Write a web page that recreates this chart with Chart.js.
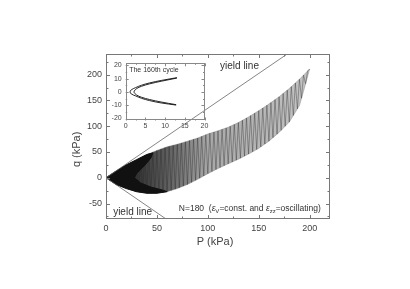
<!DOCTYPE html>
<html>
<head>
<meta charset="utf-8">
<script src="https://cdn.jsdelivr.net/npm/chart.js"></script>
<style>
     body { margin: 0; background: #fff; }
     #wrap { position: relative; width: 410px; height: 289px; }
     #wrap canvas { position: absolute; left: 0; top: 0; }
     #insetChart { pointer-events: none; }
</style>
</head>
<body>
<div id="wrap">
     <canvas id="mainChart" width="410" height="289"></canvas>
     <canvas id="insetChart" width="410" height="289"></canvas>
</div>
<script>
// envelope of the stress path (P, q in kPa)
const bandP = [0, 10, 20, 30, 40, 50, 60, 70, 80, 90, 100, 110, 120, 130, 140, 150, 160, 170, 180, 190, 200,
     196, 190, 180, 170, 160, 150, 140, 130, 120, 110, 100, 90, 80, 70, 60, 50, 40, 30, 20, 10, 0];
const bandQ = [0, 13, 25, 35, 45, 53, 60, 65, 71, 77, 85, 91, 98, 107, 118, 130, 143, 157, 173, 191, 211,
     182, 140, 108, 88, 71, 57, 46, 36, 27, 18, 8, -3, -13, -21, -27, -30, -30, -27, -21, -13, 0];

// solid black part near the origin
const coreP = [0, 10, 20, 30, 40, 46, 44, 38, 30, 28, 34, 44, 56, 60, 50, 40, 30, 20, 10, 0];
const coreQ = [0, 13, 25, 35, 45, 48, 38, 24, 8, 0, -10, -18, -24, -27, -30, -30, -27, -21, -13, 0];

// oscillation of the path between the two edges
const zigP = [30, 32, 34, 36, 38, 40, 42, 44, 46, 48, 50, 52, 54, 56, 58, 60, 62, 64, 66, 68, 70, 72, 74, 76, 78, 80,
     82, 84, 86, 88, 90, 92, 94, 96, 98, 100, 102, 104, 106, 108, 110, 112, 114, 116, 118, 120, 122, 124, 126, 128,
     130, 132, 134, 136, 138, 140, 142, 144, 146, 148, 150, 152, 154, 156, 158, 160, 162, 164, 166, 168, 170, 172,
     174, 176, 178, 180, 182, 184, 186, 188, 190, 192, 194, 196, 198, 200];
const zigQ = [35, -27.6, 39, -28.8, 43, -30, 46.6, -30, 49.8, -30, 53, -29.4, 55.8, -28.2, 58.6, -27, 61, -24.6, 63, -22.2,
     65, -19.4, 67.4, -16.2, 69.8, -13, 72.2, -9, 74.6, -5, 77, -0.8, 80.2, 3.6, 83.4, 8, 86.2, 12, 88.6, 16,
     91, 19.8, 93.8, 23.4, 96.6, 27, 99.8, 30.6, 103.4, 34.2, 107, 38, 111.4, 42, 115.8, 46, 120.4, 50.4,
     125.2, 54.8, 130, 59.8, 135.2, 65.4, 140.4, 71, 145.8, 77.8, 151.4, 84.6, 157, 92, 163.4, 100, 169.8, 108,
     176.6, 120.8, 183.8, 133.6, 191, 154.2, 199, 182.4, 207, 211];

// yield lines
const yieldUpP = [0, 178];
const yieldUpQ = [0, 240];
const yieldLoP = [0, 59];
const yieldLoQ = [0, -80];

// inset: the 160th cycle
const outerP = [12.8, 9, 6, 4, 2.5, 1.4, 1.1, 1.4, 2.5, 4, 6, 9, 13];
const outerQ = [-9.9, -8.3, -6.5, -4.8, -3, -1.5, 0, 1.5, 3.2, 5, 6.7, 8.6, 10.7];
const innerP = [12.8, 9, 6, 4, 2.8, 2.1, 2.8, 4, 6, 9, 13];
const innerQ = [-9.6, -7.6, -5.7, -4, -2.4, 0, 2.5, 4.2, 6, 8, 10.4];

const FONT = "'Liberation Sans', Arial, Helvetica, sans-serif";
const TXT = '#444';

function pts(xs, ys) {
     return xs.map((v, i) => ({ x: v, y: ys[i] }));
}

// box round the plot with inward ticks on all four sides
const frameTicks = {
     id: 'frameTicks',
     afterDraw(chart, args, opts) {
          const { ctx, chartArea: a, scales: { x, y } } = chart;
          ctx.save();
          ctx.strokeStyle = opts.color;
          ctx.lineWidth = 1;
          ctx.strokeRect(Math.round(a.left) + 0.5, Math.round(a.top) + 0.5,
               Math.round(a.right - a.left) - 1, Math.round(a.bottom - a.top) - 1);
          ctx.beginPath();
          x.ticks.forEach(t => {
               const px = Math.round(x.getPixelForValue(t.value)) + 0.5;
               const len = t.label !== '' ? opts.major : opts.minor;
               ctx.moveTo(px, a.bottom); ctx.lineTo(px, a.bottom - len);
               ctx.moveTo(px, a.top); ctx.lineTo(px, a.top + len);
          });
          y.ticks.forEach(t => {
               const py = Math.round(y.getPixelForValue(t.value)) + 0.5;
               const len = t.label !== '' ? opts.major : opts.minor;
               ctx.moveTo(a.left, py); ctx.lineTo(a.left + len, py);
               ctx.moveTo(a.right, py); ctx.lineTo(a.right - len, py);
          });
          ctx.stroke();
          ctx.restore();
     }
};

const mainTexts = {
     id: 'mainTexts',
     afterDraw(chart) {
          const { ctx, chartArea: a, scales: { x, y } } = chart;
          ctx.save();
          ctx.fillStyle = '#333';
          ctx.textBaseline = 'middle';
          ctx.font = '10px ' + FONT;
          ctx.fillText('yield line', x.getPixelForValue(112), y.getPixelForValue(217));
          ctx.fillText('yield line', x.getPixelForValue(7), y.getPixelForValue(-67));

          // N=180 (eps_V=const. and eps_zz=oscillating)
          let px = x.getPixelForValue(71.5);
          const py = y.getPixelForValue(-60);
          const parts = [['N=180  (', 0], ['\u03b5', 0, 'italic '], ['V', 1], ['=const. and ', 0],
               ['\u03b5', 0, 'italic '], ['zz', 1], ['=oscillating)', 0]];
          parts.forEach(p => {
               ctx.font = (p[2] || '') + (p[1] ? '6px ' : '8.5px ') + FONT;
               ctx.fillText(p[0], px, py + (p[1] ? 3 : 0));
               px += ctx.measureText(p[0]).width;
          });

          // axis titles
          ctx.fillStyle = TXT;
          ctx.font = '11px ' + FONT;
          ctx.textAlign = 'center';
          ctx.fillText('P (kPa)', (a.left + a.right) / 2 - 3, 242);
          ctx.translate(a.left - 29, y.getPixelForValue(55));
          ctx.rotate(-Math.PI / 2);
          ctx.fillText('q (kPa)', 0, 0);
          ctx.restore();
     }
};

const insetTexts = {
     id: 'insetTexts',
     afterDraw(chart) {
          const { ctx, chartArea: a } = chart;
          ctx.save();
          ctx.fillStyle = '#333';
          ctx.font = '7px ' + FONT;
          ctx.textBaseline = 'middle';
          ctx.fillText('The 160th cycle', a.left + 3.5, a.top + 7);
          ctx.restore();
     }
};

document.addEventListener('DOMContentLoaded', function () {
     const ctx = document.getElementById('mainChart').getContext('2d');
     new Chart(ctx, {
          type: 'scatter',
          data: {
               datasets: [{
                    data: pts(yieldUpP, yieldUpQ),
                    showLine: true,
                    borderColor: '#666',
                    borderWidth: 0.8,
                    pointRadius: 0,
                    order: 0
               }, {
                    data: pts(yieldLoP, yieldLoQ),
                    showLine: true,
                    borderColor: '#666',
                    borderWidth: 0.8,
                    pointRadius: 0,
                    order: 0
               }, {
                    data: pts(coreP, coreQ),
                    showLine: true,
                    fill: 'shape',
                    backgroundColor: '#111',
                    borderColor: '#111',
                    borderWidth: 1,
                    pointRadius: 0,
                    order: 1
               }, {
                    data: pts(zigP, zigQ),
                    showLine: true,
                    borderColor: 'rgba(40,40,40,0.75)',
                    borderWidth: 0.5,
                    pointRadius: 0,
                    order: 2
               }, {
                    data: pts(bandP, bandQ),
                    showLine: true,
                    fill: 'shape',
                    backgroundColor: function (c) {
                         const chart = c.chart;
                         if (!chart.chartArea) return '#aaa';
                         const xs = chart.scales.x;
                         const g = chart.ctx.createLinearGradient(xs.getPixelForValue(0), 0, xs.getPixelForValue(200), 0);
                         g.addColorStop(0.15, '#333');
                         g.addColorStop(0.3, '#5e5e5e');
                         g.addColorStop(0.5, '#a8a8a8');
                         g.addColorStop(1, '#c4c4c4');
                         return g;
                    },
                    borderColor: '#777',
                    borderWidth: 0.4,
                    pointRadius: 0,
                    order: 3
               }]
          },
          options: {
               responsive: false,
               animation: false,
               layout: { padding: { left: 0, top: 54, right: 80, bottom: 0 } },
               plugins: {
                    legend: { display: false },
                    tooltip: { enabled: false },
                    frameTicks: { color: '#777', major: 4, minor: 2.5 }
               },
               scales: {
                    x: {
                         type: 'linear',
                         min: 0,
                         max: 220,
                         grid: { display: false, drawTicks: false },
                         border: { display: false },
                         ticks: {
                              stepSize: 25,
                              includeBounds: false,
                              autoSkip: false,
                              maxRotation: 0,
                              padding: 4,
                              color: TXT,
                              font: { size: 9, family: FONT },
                              callback: v => (v % 50 === 0 ? v : '')
                         },
                         afterFit: s => { s.height = 70; }
                    },
                    y: {
                         type: 'linear',
                         min: -80,
                         max: 240,
                         grid: { display: false, drawTicks: false },
                         border: { display: false },
                         ticks: {
                              stepSize: 25,
                              includeBounds: false,
                              autoSkip: false,
                              padding: 4,
                              color: TXT,
                              font: { size: 9, family: FONT },
                              callback: v => (v % 50 === 0 ? v : '')
                         },
                         afterFit: s => { s.width = 106; }
                    }
               }
          },
          plugins: [frameTicks, mainTexts]
     });

     const ctx2 = document.getElementById('insetChart').getContext('2d');
     new Chart(ctx2, {
          type: 'scatter',
          data: {
               datasets: [{
                    data: pts(outerP, outerQ),
                    showLine: true,
                    tension: 0.35,
                    borderColor: '#111',
                    borderWidth: 0.9,
                    pointRadius: 0
               }, {
                    data: pts(innerP, innerQ),
                    showLine: true,
                    tension: 0.35,
                    borderColor: '#111',
                    borderWidth: 0.9,
                    pointRadius: 0
               }]
          },
          options: {
               responsive: false,
               animation: false,
               layout: { padding: { left: 111.7, top: 63.3, right: 205.5, bottom: 156.5 } },
               plugins: {
                    legend: { display: false },
                    tooltip: { enabled: false },
                    frameTicks: { color: '#888', major: 3, minor: 1.5 }
               },
               scales: {
                    x: {
                         type: 'linear',
                         min: 0,
                         max: 20,
                         grid: { display: false, drawTicks: false },
                         border: { display: false },
                         ticks: {
                              stepSize: 2.5,
                              autoSkip: false,
                              maxRotation: 0,
                              padding: 1,
                              color: TXT,
                              font: { size: 7, family: FONT },
                              callback: v => (v % 5 === 0 ? v : '')
                         },
                         afterFit: s => { s.height = 12; }
                    },
                    y: {
                         type: 'linear',
                         min: -21.5,
                         max: 21.5,
                         grid: { display: false, drawTicks: false },
                         border: { display: false },
                         ticks: {
                              stepSize: 5,
                              includeBounds: false,
                              autoSkip: false,
                              padding: 4,
                              color: TXT,
                              font: { size: 7, family: FONT },
                              callback: v => (v % 10 === 0 ? v : '')
                         },
                         afterFit: s => { s.width = 14; }
                    }
               }
          },
          plugins: [frameTicks, insetTexts]
     });
});
</script>
</body>
</html>
